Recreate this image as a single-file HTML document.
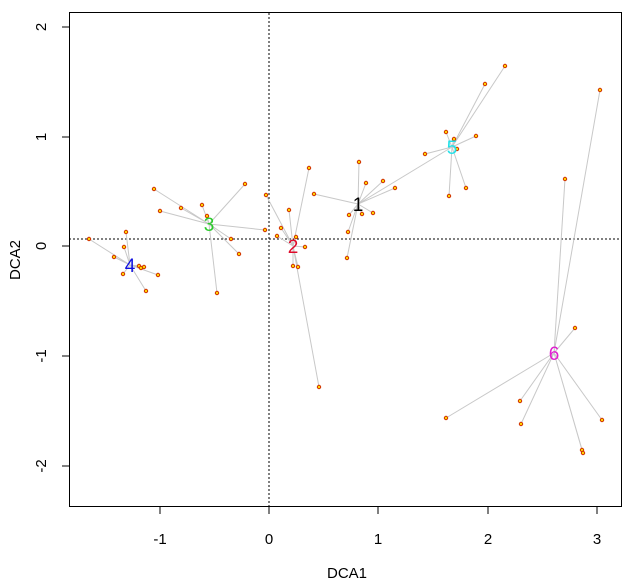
<!DOCTYPE html>
<html><head><meta charset="utf-8"><style>body{margin:0;background:#fff}svg{display:block}</style></head><body>
<svg width="636" height="585" xmlns="http://www.w3.org/2000/svg" font-family="Liberation Sans, Arial, sans-serif">
<rect width="636" height="585" fill="#fff"/>
<line x1="269" y1="13" x2="269" y2="507" stroke="#000" stroke-dasharray="2,2"/>
<line x1="69" y1="239" x2="622" y2="239" stroke="#000" stroke-dasharray="2,2"/>
<g stroke="#c8c8c8" stroke-width="1">
<path d="M130 265L89 239M130 265L126 232M130 265L124 247M130 265L114 257M130 265L123 274M130 265L139 266M130 265L141 268M130 265L144 267M130 265L158 275M130 265L146 291"/>
<path d="M209 224L154 189M209 224L160 211M209 224L181 208M209 224L202 205M209 224L207 216M209 224L245 184M209 224L265 230M209 224L231 239M209 224L239 254M209 224L217 293"/>
<path d="M293 246L266 195M293 246L289 210M293 246L281 228M293 246L277 236M293 246L296 237M293 246L305 247M293 246L293 266M293 246L298 267M293 246L309 168M293 246L319 387"/>
<path d="M358 204L314 194M358 204L359 162M358 204L366 183M358 204L383 181M358 204L395 188M358 204L349 215M358 204L362 214M358 204L373 213M358 204L348 232M358 204L347 258M358 204L452 147"/>
<path d="M452 147L425 154M452 147L446 132M452 147L454 139M452 147L457 149M452 147L476 136M452 147L466 188M452 147L449 196M452 147L485 84M452 147L505 66"/>
<path d="M554 353L600 90M554 353L565 179M554 353L446 418M554 353L520 401M554 353L521 424M554 353L575 328M554 353L602 420M554 353L582 450M554 353L583 453"/>
</g>
<g fill="#ffd700" stroke="#d03000" stroke-width="1">
<circle cx="89" cy="239" r="1.7"/><circle cx="126" cy="232" r="1.7"/><circle cx="124" cy="247" r="1.7"/><circle cx="114" cy="257" r="1.7"/><circle cx="123" cy="274" r="1.7"/><circle cx="139" cy="266" r="1.7"/><circle cx="141" cy="268" r="1.7"/><circle cx="144" cy="267" r="1.7"/><circle cx="158" cy="275" r="1.7"/><circle cx="146" cy="291" r="1.7"/>
<circle cx="154" cy="189" r="1.7"/><circle cx="160" cy="211" r="1.7"/><circle cx="181" cy="208" r="1.7"/><circle cx="202" cy="205" r="1.7"/><circle cx="207" cy="216" r="1.7"/><circle cx="245" cy="184" r="1.7"/><circle cx="265" cy="230" r="1.7"/><circle cx="231" cy="239" r="1.7"/><circle cx="239" cy="254" r="1.7"/><circle cx="217" cy="293" r="1.7"/>
<circle cx="266" cy="195" r="1.7"/><circle cx="289" cy="210" r="1.7"/><circle cx="281" cy="228" r="1.7"/><circle cx="277" cy="236" r="1.7"/><circle cx="296" cy="237" r="1.7"/><circle cx="305" cy="247" r="1.7"/><circle cx="293" cy="266" r="1.7"/><circle cx="298" cy="267" r="1.7"/><circle cx="309" cy="168" r="1.7"/><circle cx="319" cy="387" r="1.7"/>
<circle cx="314" cy="194" r="1.7"/><circle cx="359" cy="162" r="1.7"/><circle cx="366" cy="183" r="1.7"/><circle cx="383" cy="181" r="1.7"/><circle cx="395" cy="188" r="1.7"/><circle cx="349" cy="215" r="1.7"/><circle cx="362" cy="214" r="1.7"/><circle cx="373" cy="213" r="1.7"/><circle cx="348" cy="232" r="1.7"/><circle cx="347" cy="258" r="1.7"/>
<circle cx="425" cy="154" r="1.7"/><circle cx="446" cy="132" r="1.7"/><circle cx="454" cy="139" r="1.7"/><circle cx="457" cy="149" r="1.7"/><circle cx="476" cy="136" r="1.7"/><circle cx="466" cy="188" r="1.7"/><circle cx="449" cy="196" r="1.7"/><circle cx="485" cy="84" r="1.7"/><circle cx="505" cy="66" r="1.7"/>
<circle cx="600" cy="90" r="1.7"/><circle cx="565" cy="179" r="1.7"/><circle cx="446" cy="418" r="1.7"/><circle cx="520" cy="401" r="1.7"/><circle cx="521" cy="424" r="1.7"/><circle cx="575" cy="328" r="1.7"/><circle cx="602" cy="420" r="1.7"/><circle cx="582" cy="450" r="1.7"/><circle cx="583" cy="453" r="1.7"/>
</g>
<g font-size="19" text-anchor="middle">
<text x="358" y="211" fill="#000">1</text>
<text x="293" y="253" fill="#df0a2a">2</text>
<text x="209" y="231" fill="#2ccb2c">3</text>
<text x="130" y="272" fill="#1010e0">4</text>
<text x="452" y="154" fill="#20e0e8">5</text>
<text x="554" y="360" fill="#e020d0">6</text>
</g>
<rect x="69.5" y="12.5" width="552" height="494" fill="none" stroke="#000"/>
<g stroke="#000">
<line x1="160" y1="507" x2="160" y2="514"/><line x1="269" y1="507" x2="269" y2="514"/><line x1="378" y1="507" x2="378" y2="514"/><line x1="488" y1="507" x2="488" y2="514"/><line x1="597" y1="507" x2="597" y2="514"/>
<line x1="62" y1="27" x2="69" y2="27"/><line x1="62" y1="137" x2="69" y2="137"/><line x1="62" y1="246" x2="69" y2="246"/><line x1="62" y1="356" x2="69" y2="356"/><line x1="62" y1="466" x2="69" y2="466"/>
</g>
<g font-size="15" text-anchor="middle" fill="#000">
<text x="160" y="544">-1</text><text x="269" y="544">0</text><text x="378" y="544">1</text><text x="488" y="544">2</text><text x="597" y="544">3</text>
<text x="347" y="578">DCA1</text>
<text transform="translate(46,27) rotate(-90)">2</text>
<text transform="translate(46,137) rotate(-90)">1</text>
<text transform="translate(46,246) rotate(-90)">0</text>
<text transform="translate(46,356) rotate(-90)">-1</text>
<text transform="translate(46,466) rotate(-90)">-2</text>
<text transform="translate(20,260) rotate(-90)">DCA2</text>
</g>
</svg>
</body></html>
